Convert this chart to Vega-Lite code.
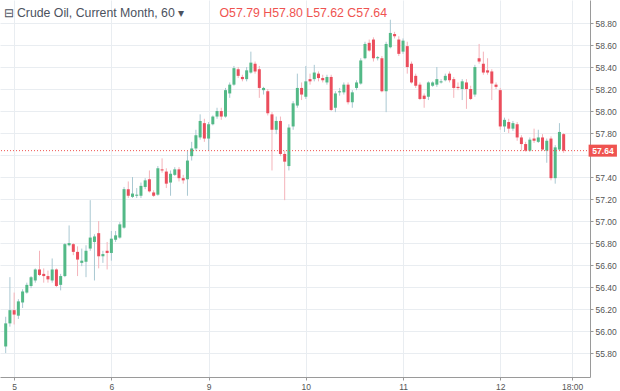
{
"$schema": "https://vega.github.io/schema/vega-lite/v6.json",
"width": 590, "height": 377,
"autosize": {"type": "none"},
"padding": {"left": 0, "top": 0, "right": 30, "bottom": 14},
"background": "white",
"config": {"view": {"stroke": null}, "font": "Liberation Sans", "axis": {"labelOverlap": false}},
"data": {"values": [
{"i":-2,"o":55.86,"h":56.13,"l":55.80,"c":56.07},
{"i":-1,"o":56.07,"h":56.49,"l":56.04,"c":56.19},
{"i":0,"o":56.19,"h":56.35,"l":56.06,"c":56.15},
{"i":1,"o":56.14,"h":56.29,"l":56.11,"c":56.27},
{"i":2,"o":56.26,"h":56.38,"l":56.21,"c":56.36},
{"i":3,"o":56.35,"h":56.44,"l":56.34,"c":56.42},
{"i":4,"o":56.41,"h":56.50,"l":56.39,"c":56.49},
{"i":5,"o":56.46,"h":56.57,"l":56.44,"c":56.56},
{"i":6,"o":56.56,"h":56.73,"l":56.50,"c":56.51},
{"i":7,"o":56.52,"h":56.57,"l":56.44,"c":56.50},
{"i":8,"o":56.50,"h":56.55,"l":56.44,"c":56.47},
{"i":9,"o":56.46,"h":56.66,"l":56.44,"c":56.56},
{"i":10,"o":56.56,"h":56.57,"l":56.40,"c":56.41},
{"i":11,"o":56.42,"h":56.52,"l":56.37,"c":56.50},
{"i":12,"o":56.50,"h":56.80,"l":56.49,"c":56.79},
{"i":13,"o":56.78,"h":56.96,"l":56.77,"c":56.80},
{"i":14,"o":56.79,"h":56.80,"l":56.69,"c":56.72},
{"i":15,"o":56.72,"h":56.77,"l":56.50,"c":56.65},
{"i":16,"o":56.62,"h":56.75,"l":56.59,"c":56.64},
{"i":17,"o":56.63,"h":56.78,"l":56.49,"c":56.73},
{"i":18,"o":56.75,"h":57.19,"l":56.73,"c":56.85},
{"i":19,"o":56.81,"h":56.88,"l":56.46,"c":56.86},
{"i":20,"o":56.89,"h":57.00,"l":56.57,"c":56.68},
{"i":21,"o":56.68,"h":56.73,"l":56.62,"c":56.70},
{"i":22,"o":56.73,"h":56.81,"l":56.56,"c":56.71},
{"i":23,"o":56.71,"h":56.91,"l":56.64,"c":56.84},
{"i":24,"o":56.83,"h":56.91,"l":56.81,"c":56.87},
{"i":25,"o":56.85,"h":56.99,"l":56.84,"c":56.97},
{"i":26,"o":56.94,"h":57.31,"l":56.93,"c":57.29},
{"i":27,"o":57.29,"h":57.36,"l":57.21,"c":57.23},
{"i":28,"o":57.22,"h":57.40,"l":57.21,"c":57.25},
{"i":29,"o":57.23,"h":57.30,"l":57.21,"c":57.24},
{"i":30,"o":57.23,"h":57.35,"l":57.21,"c":57.32},
{"i":31,"o":57.31,"h":57.39,"l":57.29,"c":57.37},
{"i":32,"o":57.38,"h":57.46,"l":57.26,"c":57.27},
{"i":33,"o":57.26,"h":57.28,"l":57.22,"c":57.23},
{"i":34,"o":57.24,"h":57.50,"l":57.23,"c":57.48},
{"i":35,"o":57.47,"h":57.57,"l":57.44,"c":57.46},
{"i":36,"o":57.45,"h":57.48,"l":57.30,"c":57.34},
{"i":37,"o":57.35,"h":57.46,"l":57.23,"c":57.43},
{"i":38,"o":57.42,"h":57.49,"l":57.41,"c":57.47},
{"i":39,"o":57.47,"h":57.49,"l":57.36,"c":57.39},
{"i":40,"o":57.39,"h":57.42,"l":57.34,"c":57.37},
{"i":41,"o":57.38,"h":57.64,"l":57.23,"c":57.55},
{"i":42,"o":57.59,"h":57.72,"l":57.55,"c":57.66},
{"i":43,"o":57.66,"h":57.83,"l":57.64,"c":57.78},
{"i":44,"o":57.76,"h":57.97,"l":57.74,"c":57.91},
{"i":45,"o":57.89,"h":57.93,"l":57.72,"c":57.75},
{"i":46,"o":57.75,"h":57.90,"l":57.64,"c":57.88},
{"i":47,"o":57.88,"h":57.96,"l":57.87,"c":57.95},
{"i":48,"o":57.95,"h":58.03,"l":57.93,"c":58.00},
{"i":49,"o":58.00,"h":58.03,"l":57.92,"c":57.95},
{"i":50,"o":57.95,"h":58.21,"l":57.94,"c":58.19},
{"i":51,"o":58.16,"h":58.26,"l":58.12,"c":58.24},
{"i":52,"o":58.24,"h":58.41,"l":58.23,"c":58.39},
{"i":53,"o":58.38,"h":58.40,"l":58.30,"c":58.32},
{"i":54,"o":58.31,"h":58.33,"l":58.27,"c":58.29},
{"i":55,"o":58.29,"h":58.40,"l":58.27,"c":58.37},
{"i":56,"o":58.35,"h":58.54,"l":58.34,"c":58.44},
{"i":57,"o":58.43,"h":58.45,"l":58.34,"c":58.36},
{"i":58,"o":58.38,"h":58.41,"l":58.12,"c":58.21},
{"i":59,"o":58.19,"h":58.22,"l":58.15,"c":58.21},
{"i":60,"o":58.18,"h":58.20,"l":57.96,"c":57.98},
{"i":61,"o":57.97,"h":57.99,"l":57.46,"c":57.83},
{"i":62,"o":57.83,"h":57.95,"l":57.79,"c":57.91},
{"i":63,"o":57.91,"h":57.95,"l":57.59,"c":57.61},
{"i":64,"o":57.61,"h":57.64,"l":57.19,"c":57.54},
{"i":65,"o":57.50,"h":57.88,"l":57.46,"c":57.85},
{"i":66,"o":57.86,"h":58.09,"l":57.83,"c":58.07},
{"i":67,"o":58.05,"h":58.34,"l":58.03,"c":58.21},
{"i":68,"o":58.21,"h":58.26,"l":58.10,"c":58.15},
{"i":69,"o":58.13,"h":58.41,"l":58.11,"c":58.27},
{"i":70,"o":58.29,"h":58.34,"l":58.24,"c":58.27},
{"i":71,"o":58.29,"h":58.42,"l":58.27,"c":58.35},
{"i":72,"o":58.34,"h":58.36,"l":58.27,"c":58.30},
{"i":73,"o":58.30,"h":58.33,"l":58.26,"c":58.28},
{"i":74,"o":58.26,"h":58.33,"l":58.24,"c":58.31},
{"i":75,"o":58.31,"h":58.33,"l":58.00,"c":58.01},
{"i":76,"o":58.03,"h":58.18,"l":57.99,"c":58.16},
{"i":77,"o":58.17,"h":58.21,"l":58.14,"c":58.18},
{"i":78,"o":58.17,"h":58.26,"l":58.15,"c":58.24},
{"i":79,"o":58.24,"h":58.26,"l":58.06,"c":58.08},
{"i":80,"o":58.08,"h":58.19,"l":58.03,"c":58.17},
{"i":81,"o":58.21,"h":58.28,"l":58.19,"c":58.26},
{"i":82,"o":58.25,"h":58.48,"l":58.24,"c":58.46},
{"i":83,"o":58.48,"h":58.63,"l":58.47,"c":58.61},
{"i":84,"o":58.62,"h":58.65,"l":58.54,"c":58.55},
{"i":85,"o":58.65,"h":58.67,"l":58.45,"c":58.48},
{"i":86,"o":58.48,"h":58.50,"l":58.46,"c":58.49},
{"i":87,"o":58.48,"h":58.50,"l":58.17,"c":58.18},
{"i":88,"o":58.18,"h":58.63,"l":57.99,"c":58.61},
{"i":89,"o":58.58,"h":58.83,"l":58.57,"c":58.71},
{"i":90,"o":58.70,"h":58.72,"l":58.66,"c":58.68},
{"i":91,"o":58.65,"h":58.68,"l":58.50,"c":58.52},
{"i":92,"o":58.54,"h":58.66,"l":58.52,"c":58.64},
{"i":93,"o":58.59,"h":58.63,"l":58.34,"c":58.40},
{"i":94,"o":58.43,"h":58.45,"l":58.25,"c":58.26},
{"i":95,"o":58.32,"h":58.34,"l":58.21,"c":58.23},
{"i":96,"o":58.24,"h":58.26,"l":58.10,"c":58.11},
{"i":97,"o":58.14,"h":58.16,"l":58.03,"c":58.11},
{"i":98,"o":58.13,"h":58.27,"l":58.10,"c":58.26},
{"i":99,"o":58.23,"h":58.27,"l":58.22,"c":58.26},
{"i":100,"o":58.24,"h":58.40,"l":58.22,"c":58.29},
{"i":101,"o":58.26,"h":58.29,"l":58.25,"c":58.27},
{"i":102,"o":58.28,"h":58.34,"l":58.27,"c":58.32},
{"i":103,"o":58.34,"h":58.36,"l":58.26,"c":58.28},
{"i":104,"o":58.29,"h":58.31,"l":58.12,"c":58.21},
{"i":105,"o":58.22,"h":58.26,"l":58.19,"c":58.21},
{"i":106,"o":58.20,"h":58.29,"l":58.10,"c":58.27},
{"i":107,"o":58.26,"h":58.29,"l":58.02,"c":58.20},
{"i":108,"o":58.20,"h":58.23,"l":58.10,"c":58.11},
{"i":109,"o":58.15,"h":58.42,"l":58.13,"c":58.40},
{"i":110,"o":58.48,"h":58.61,"l":58.43,"c":58.45},
{"i":111,"o":58.43,"h":58.54,"l":58.33,"c":58.35},
{"i":112,"o":58.37,"h":58.48,"l":58.33,"c":58.35},
{"i":113,"o":58.36,"h":58.38,"l":58.10,"c":58.25},
{"i":114,"o":58.24,"h":58.26,"l":58.20,"c":58.22},
{"i":115,"o":58.19,"h":58.21,"l":57.83,"c":57.86},
{"i":116,"o":57.86,"h":57.94,"l":57.81,"c":57.92},
{"i":117,"o":57.90,"h":57.93,"l":57.80,"c":57.84},
{"i":118,"o":57.84,"h":57.91,"l":57.82,"c":57.89},
{"i":119,"o":57.88,"h":57.90,"l":57.73,"c":57.76},
{"i":120,"o":57.76,"h":57.78,"l":57.64,"c":57.70},
{"i":121,"o":57.70,"h":57.72,"l":57.63,"c":57.64},
{"i":122,"o":57.64,"h":57.76,"l":57.63,"c":57.74},
{"i":123,"o":57.75,"h":57.84,"l":57.71,"c":57.73},
{"i":124,"o":57.72,"h":57.83,"l":57.71,"c":57.76},
{"i":125,"o":57.76,"h":57.79,"l":57.64,"c":57.65},
{"i":126,"o":57.64,"h":57.75,"l":57.53,"c":57.73},
{"i":127,"o":57.75,"h":57.77,"l":57.37,"c":57.39},
{"i":128,"o":57.39,"h":57.69,"l":57.34,"c":57.67},
{"i":129,"o":57.65,"h":57.89,"l":57.64,"c":57.81},
{"i":130,"o":57.79,"h":57.80,"l":57.62,"c":57.64}
]},
"layer": [
{"mark": {"type": "rule", "strokeWidth": 1},
 "encoding": {
  "x": {"field": "i", "type": "quantitative",
    "scale": {"domain": [-2.163, 135.047], "nice": false, "zero": false},
    "axis": {"values": [0, 23, 46, 69, 92, 115, 132], "tickCount": 20,
      "labelExpr": "datum.value == 0 ? '5' : datum.value == 23 ? '6' : datum.value == 46 ? '9' : datum.value == 69 ? '10' : datum.value == 92 ? '11' : datum.value == 115 ? '12' : '18:00'",
      "grid": true, "gridColor": "#e9edf1", "tickSize": 3, "tickColor": "#9a9a9a", "domainColor": "#9a9a9a",
      "labelFont": "Liberation Sans", "labelFontSize": 8.5, "labelColor": "#555555", "labelPadding": 2, "labelFlush": false, "labelOverlap": false,
      "title": "O57.79 H57.80 L57.62 C57.64", "titleX": 219, "titleY": -365, "titleAnchor": "start", "titleAlign": "left", "titleBaseline": "middle",
      "titleColor": "#ef5350", "titleFont": "Liberation Sans", "titleFontSize": 12.3, "titleFontWeight": "normal"}},
  "y": {"field": "l", "type": "quantitative",
    "scale": {"domain": [55.628, 58.964], "nice": false, "zero": false},
    "axis": {"orient": "right", "values": [55.8, 56.0, 56.2, 56.4, 56.6, 56.8, 57.0, 57.2, 57.4, 57.6, 57.8, 58.0, 58.2, 58.4, 58.6, 58.8], "tickCount": 20,
      "labelExpr": "abs(datum.value - 57.6) < 0.001 ? '' : format(datum.value, '.2f')",
      "grid": true, "gridColor": "#e9edf1", "tickSize": 3, "tickColor": "#9a9a9a", "domainColor": "#9a9a9a",
      "labelFont": "Liberation Sans", "labelFontSize": 8.5, "labelColor": "#555555", "labelPadding": 2, "labelFlush": false, "labelOverlap": false, "labelBound": false,
      "title": "⊟ Crude Oil, Current Month, 60 ▾", "titleAngle": 0, "titleX": -587, "titleY": 12, "titleAnchor": "start", "titleAlign": "left", "titleBaseline": "middle",
      "titleColor": "#4c525e", "titleFont": "Liberation Sans", "titleFontSize": 12.3, "titleFontWeight": "normal"}},
  "y2": {"field": "h"},
  "color": {"condition": {"test": "datum.c < datum.o", "value": "#f4b3ba"}, "value": "#a9c8d2"}
 }},
{"mark": {"type": "bar", "size": 3},
 "encoding": {
  "x": {"field": "i", "type": "quantitative"},
  "y": {"field": "o", "type": "quantitative"},
  "y2": {"field": "c"},
  "color": {"condition": {"test": "datum.c < datum.o", "value": "#eb4d5c"}, "value": "#53b987"}
 }},
{"transform": [{"filter": "datum.i == 130"}],
 "mark": {"type": "rule", "color": "#ef5350", "strokeWidth": 1, "strokeDash": [1, 2]},
 "encoding": {"y": {"field": "c", "type": "quantitative"}}},
{"transform": [{"filter": "datum.i == 130"}],
 "mark": {"type": "bar", "size": 12, "color": "#ef5350", "clip": false},
 "encoding": {"x": {"datum": 135.9}, "x2": {"datum": 142.6}, "y": {"field": "c", "type": "quantitative"}}},
{"transform": [{"filter": "datum.i == 130"}],
 "mark": {"type": "text", "color": "white", "font": "Liberation Sans", "fontSize": 8.5, "fontWeight": "bold", "align": "center", "baseline": "middle", "clip": false},
 "encoding": {"x": {"datum": 139.3}, "y": {"field": "c", "type": "quantitative"}, "text": {"field": "c", "format": ".2f"}}}
]
}
